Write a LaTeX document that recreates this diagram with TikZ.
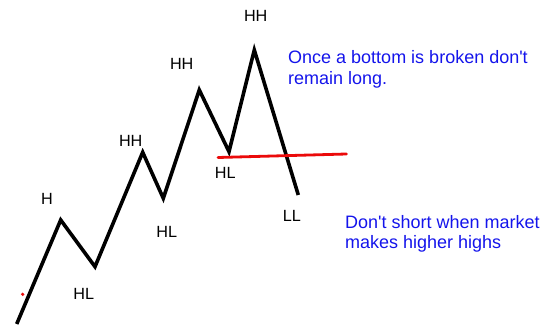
\documentclass[tikz,border=0pt]{standalone}
\usepackage{fontspec}
\setmainfont{Liberation Sans}
\definecolor{Notecolor}{RGB}{20,20,235}
\definecolor{Breakcolor}{RGB}{235,10,10}
\usetikzlibrary{positioning}

\begin{document}
\begin{tikzpicture}[
  x=1pt, y=-1pt,
  zig/.style={
    line width=3.6pt, line join=miter, line cap=butt, black
  },
  brk/.style={
    line width=2.8pt, line cap=round, color=Breakcolor
  },
  lbl/.style={
    font=\fontsize{16.2}{19}\selectfont, inner sep=0pt, anchor=center
  },
  note/.style={
    font=\fontsize{18}{20.5}\selectfont, text=Notecolor,
    align=left, inner sep=0pt, anchor=north west
  }
]
\useasboundingbox (0,0) rectangle (558,329);

%% ── Puntos del zigzag ────────────────────────────────────────────────────
\coordinate (p0) at (16.7, 324);
\coordinate (h1) at (60.7, 220);
\coordinate (l1) at (95, 266.7);
\coordinate (h2) at (142.7, 152.3);
\coordinate (l2) at (163.3, 198.3);
\coordinate (h3) at (199.3, 90);
\coordinate (l3) at (229, 151.7);
\coordinate (h4) at (254.3, 50);
\coordinate (ll) at (298.3, 195);

%% ── Trazo del precio ─────────────────────────────────────────────────────
\draw[zig] (p0) -- (h1) -- (l1) -- (h2) -- (l2) -- (h3) -- (l3) -- (h4) -- (ll);

%% ── Ruptura del ultimo minimo ────────────────────────────────────────────
\coordinate (bkL) at (218, 157.5);
\coordinate (bkR) at (346.5, 154);
\draw[brk] (bkL) -- (bkR);
\fill[Breakcolor] (22.7, 294.3) circle (1.8);

%% ── Etiquetas ────────────────────────────────────────────────────────────
\node[lbl] (tH)   at (47, 199.2)   {H};
\node[lbl] (tHL1) at (83.8, 293.7) {HL};
\node[lbl] (tHH1) at (130.7, 140.8) {HH};
\node[lbl] (tHL2) at (166.7, 231.7) {HL};
\node[lbl] (tHH2) at (181.7, 64)   {HH};
\node[lbl] (tHL3) at (225.2, 173.3) {HL};
\node[lbl] (tHH3) at (255.7, 15.8)  {HH};
\node[lbl] (tLL)  at (292, 216)    {LL};

%% ── Notas ────────────────────────────────────────────────────────────────
\node[note] (nBreak) at (288, 50.5)
  {Once a bottom is broken don\textquotesingle t\\remain long.};
\node[note] (nShort) at (345, 215)
  {Don\textquotesingle t short when market\\makes higher highs};

\end{tikzpicture}
\end{document}
